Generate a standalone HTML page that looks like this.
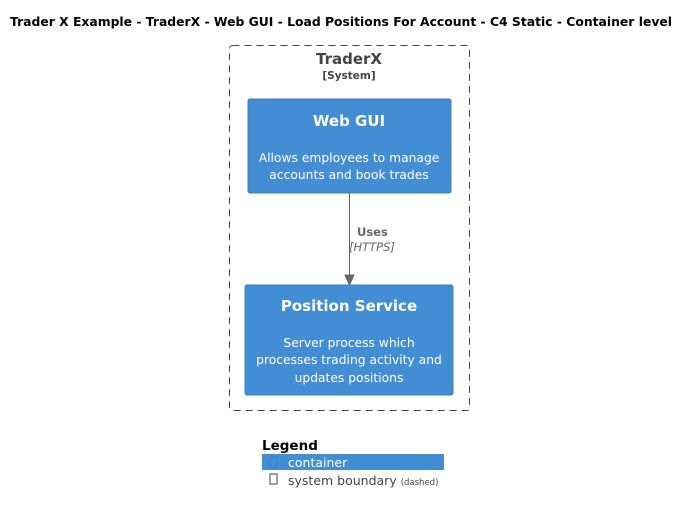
<!DOCTYPE html>
<html><head><meta charset="utf-8"><style>
html,body{margin:0;padding:0;background:#fff;}
svg{display:block;font-family:"DejaVu Sans","Liberation Sans",sans-serif;}
</style></head><body>
<svg width="690" height="514" viewBox="0 0 690 514" xmlns="http://www.w3.org/2000/svg">
<text x="341" y="26" text-anchor="middle" font-size="12.8" font-weight="bold" fill="#000" textLength="662" lengthAdjust="spacingAndGlyphs">Trader X Example - TraderX - Web GUI - Load Positions For Account - C4 Static - Container level</text>
<rect x="229.5" y="45.5" width="240" height="365" rx="3" fill="none" stroke="#444" stroke-dasharray="7,5"/>
<text x="349" y="64" text-anchor="middle" font-size="15" font-weight="bold" fill="#444">TraderX</text>
<text x="349" y="79" text-anchor="middle" font-size="10.5" font-weight="bold" fill="#444">[System]</text>
<rect x="248" y="99" width="203" height="94" rx="2" fill="#438dd5" stroke="#3c7fc0"/>
<text x="349" y="126" text-anchor="middle" font-size="15" font-weight="bold" fill="#fff">Web GUI</text>
<text x="349" y="162" text-anchor="middle" font-size="12.3" fill="#fff">Allows employees to manage</text>
<text x="349" y="179" text-anchor="middle" font-size="12.3" fill="#fff">accounts and book trades</text>
<line x1="349.5" y1="193" x2="349.5" y2="277" stroke="#666"/>
<polygon points="345,275 349.5,285 354,275" fill="#666" stroke="#666"/>
<text x="357" y="236" font-size="11.5" font-weight="bold" fill="#666">Uses</text>
<text x="349" y="251" font-size="11.5" font-style="italic" fill="#666">[HTTPS]</text>
<rect x="245" y="285" width="208" height="110" rx="2" fill="#438dd5" stroke="#3c7fc0"/>
<text x="349" y="311" text-anchor="middle" font-size="15" font-weight="bold" fill="#fff">Position Service</text>
<text x="349" y="347" text-anchor="middle" font-size="12.3" fill="#fff">Server process which</text>
<text x="349" y="364" text-anchor="middle" font-size="12.3" fill="#fff">processes trading activity and</text>
<text x="349" y="382" text-anchor="middle" font-size="12.3" fill="#fff">updates positions</text>
<text x="262" y="450" font-size="13.5" font-weight="bold" fill="#000">Legend</text>
<rect x="262" y="454" width="182" height="16" fill="#438dd5"/>
<rect x="270" y="457" width="7" height="10" fill="none" stroke="#3c7fc0"/>
<text x="288" y="467" font-size="12.5" fill="#fff">container</text>
<rect x="270" y="474" width="7" height="10" fill="none" stroke="#444"/>
<text x="288" y="485" font-size="12.5" fill="#444">system boundary <tspan font-size="8.5">(dashed)</tspan></text>
</svg>
</body></html>
